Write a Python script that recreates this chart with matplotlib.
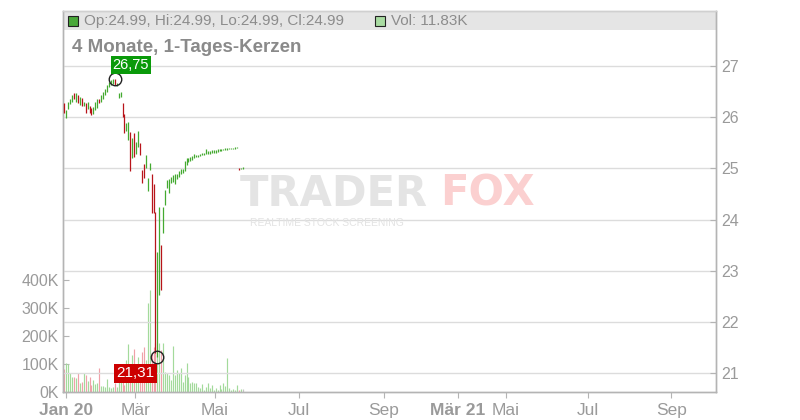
import matplotlib
matplotlib.use('Agg')
import matplotlib.pyplot as plt
from matplotlib.patches import Rectangle
import numpy as np

# ---------------- data ----------------
opens = [26.28, 25.99, 26.16, 26.25, 26.29, 26.48, 26.30, 26.43, 26.24, 26.37,
         26.21, 26.28, 26.16, 26.21, 26.17, 26.06, 26.14, 26.18, 26.36, 26.30,
         26.35, 26.43, 26.50, 26.58, 26.62, 26.65, 26.75, 26.61, 26.37, 26.39,
         26.28, 26.06, 25.74, 25.55, 25.72, 25.20, 25.69, 25.29, 25.41, 25.50,
         24.97, 25.08, 25.00, 24.55, 24.97, 24.90, 24.70, 24.15, 21.31, 22.53,
         23.50, 23.73, 24.29, 24.61, 24.52, 24.71, 24.74, 24.70, 24.79, 24.84,
         24.90, 24.91, 24.94, 25.07, 25.13, 25.15, 25.17, 25.20, 25.23, 25.23,
         25.24, 25.26, 25.26, 25.28, 25.28, 25.29, 25.30, 25.31, 25.31, 25.33,
         25.34, 25.34, 25.35, 25.36, 25.36, 25.37, 25.37, 25.37, 25.38, 25.39,
         25.01, 24.98, 24.99]
closes = [26.09, 26.15, 26.30, 26.36, 26.44, 26.35, 26.48, 26.27, 26.40, 26.21,
          26.30, 26.09, 26.29, 26.08, 26.04, 26.20, 26.30, 26.35, 26.28, 26.43,
          26.49, 26.56, 26.63, 26.69, 26.72, 26.74, 26.63, 26.66, 26.47, 26.50,
          26.00, 25.69, 25.88, 25.91, 24.94, 25.60, 25.23, 25.52, 25.74, 25.26,
          24.72, 24.81, 25.26, 24.81, 25.11, 24.13, 24.13, 21.40, 23.37, 24.25,
          22.62, 24.25, 24.58, 24.77, 24.79, 24.84, 24.87, 24.89, 24.90, 24.94,
          24.98, 24.98, 25.15, 25.20, 25.20, 25.22, 25.24, 25.29, 25.27, 25.27,
          25.28, 25.31, 25.30, 25.37, 25.34, 25.34, 25.35, 25.35, 25.36, 25.37,
          25.37, 25.38, 25.38, 25.39, 25.39, 25.39, 25.40, 25.40, 25.40, 25.42,
          24.97, 24.99, 24.99]
volumes_k = [81, 102, 100, 67, 55, 55, 49, 67, 33, 37,
             69, 61, 40, 55, 25, 43, 27, 31, 85, 21,
             21, 19, 46, 19, 13, 19, 31, 19, 37, 49,
             37, 25, 114, 171, 43, 132, 154, 67, 126, 37,
             144, 162, 114, 319, 364, 138, 162, 174, 140, 175,
             150, 174, 73, 67, 61, 43, 165, 61, 79, 67,
             85, 37, 61, 102, 55, 31, 37, 31, 33, 19,
             13, 28, 7, 17, 31, 13, 25, 7, 13, 7,
             25, 9, 31, 20, 121, 15, 8, 10, 8, 25,
             8, 10, 11.83]

price_ticks = [21, 22, 23, 24, 25, 26, 27]
volume_ticks_k = [0, 100, 200, 300, 400]
month_labels = ['Jan 20', 'Mär', 'Mai', 'Jul', 'Sep', 'Mär 21', 'Mai', 'Jul', 'Sep']
month_positions = [0.9, 36.5, 77.7, 121.0, 164.8, 202.9, 227.7, 270.0, 312.8]
bold_months = ['Jan 20', 'Mär 21']
title_text = '4 Monate, 1-Tages-Kerzen'

# ---------------- style ----------------
W, H = 800, 420
L, R, T, B = 63, 716, 11, 392
GREEN = '#44aa30'
RED = '#b8141a'
VGREEN = '#a3da9b'
VRED = '#f0a0a8'
VGRAY = '#c4c4c4'
GRID = '#dcdcdc'
AXC = '#b4b4b4'
TXT = '#9a9a9a'

plt.rcParams['font.family'] = ['Liberation Sans', 'DejaVu Sans']

fig = plt.figure(figsize=(W / 100, H / 100), dpi=100)
ax_v = fig.add_axes([L / W, 1 - B / H, (R - L) / W, (B - T) / H])
ax_p = ax_v.twinx()

o = np.array(opens)
c = np.array(closes)
v = np.array(volumes_k)
n = len(o)
x = np.arange(n)
up = c >= o

# limits
ax_v.set_xlim(-0.67, 335.9)
ax_p.set_ylim(20.633, 28.074)
ax_v.set_ylim(0, 1361)

# header band (under grid)
ax_v.add_patch(Rectangle((0, (B - 30) / (B - T)), 1, 1 - (B - 30) / (B - T),
                         transform=ax_v.transAxes, facecolor='#e5e5e5',
                         edgecolor='none', zorder=0.5))

# volume bars
vcols = [VGREEN if cc > oo else (VRED if cc < oo else VGRAY) for oo, cc in zip(o, c)]
ax_v.vlines(x, 0, v, colors=vcols, linewidth=0.85, zorder=2)

# candles (bodies)
body = np.maximum(np.abs(c - o), 0.03)
bottom = np.minimum(o, c)
ccols = [GREEN if u else RED for u in up]
ax_p.vlines(x, bottom, bottom + body, colors=ccols, linewidth=0.9, zorder=3)

# grid
ax_p.set_yticks(price_ticks)
ax_p.set_yticklabels([str(t) for t in price_ticks])
ax_v.set_xticks(month_positions)
ax_v.set_xticklabels(month_labels)
ax_p.grid(True, axis='both', color=GRID, linewidth=1, zorder=1)
ax_p.set_axisbelow(True)

# volume ticks
ax_v.set_yticks(volume_ticks_k)
ax_v.set_yticklabels([f'{t}K' for t in volume_ticks_k])

# styles of ticks
ax_p.tick_params(axis='y', direction='in', length=4, color=AXC, labelcolor=TXT,
                 labelsize=11.5, pad=4)
ax_p.tick_params(axis='x', bottom=False, labelbottom=False)
ax_v.tick_params(axis='y', direction='in', length=4, color=AXC, labelcolor=TXT,
                 labelsize=11.5, pad=3)
ax_v.tick_params(axis='x', direction='out', length=4, color=AXC, labelcolor=TXT,
                 labelsize=12.5, pad=4)
for lab in ax_v.get_xticklabels():
    lab.set_family(['Liberation Sans Narrow', 'Liberation Sans', 'DejaVu Sans'])
    if lab.get_text() in bold_months:
        lab.set_fontweight('bold')

for a in (ax_v, ax_p):
    for s in a.spines.values():
        s.set_color(AXC)
        s.set_linewidth(1)
ax_v.spines['top'].set_color('#d0d0d0')
ax_p.spines['top'].set_color('#d0d0d0')

# high / low markers
i_hi = int(np.argmax(np.maximum(o, c)))
i_lo = int(np.argmin(np.minimum(o, c)))
hi = float(np.maximum(o, c)[i_hi])
lo = float(np.minimum(o, c)[i_lo])
ax_p.plot([i_hi], [hi], 'o', ms=9, mfc='none', mec='#222222', mew=1, zorder=6)
ax_p.plot([i_lo], [lo], 'o', ms=9, mfc='none', mec='#222222', mew=1, zorder=6)
ax_p.annotate(f'{hi:.2f}'.replace('.', ','), xy=(i_hi, hi), xytext=(-2, 7),
              textcoords='offset pixels', ha='left', va='bottom', color='white',
              fontsize=10.5, zorder=7,
              bbox=dict(boxstyle='square,pad=0.15', fc='#0a9a0a', ec='none'))
ax_p.annotate(f'{lo:.2f}'.replace('.', ','), xy=(i_lo, lo), xytext=(-3, -9),
              textcoords='offset pixels', ha='right', va='top', color='white',
              fontsize=11, zorder=7,
              bbox=dict(boxstyle='square,pad=0.15', fc='#cc0000', ec='none'))

# header legend
fig.add_artist(Rectangle((68 / W, 1 - 26 / H), 10 / W, 10 / H, transform=fig.transFigure,
                         facecolor='#4aa83a', edgecolor='#222222', linewidth=0.8))
fig.text(84 / W, 1 - 21 / H,
         f'Op:{o[-1]:.2f}, Hi:{max(o[-1], c[-1]):.2f}, Lo:{min(o[-1], c[-1]):.2f}, Cl:{c[-1]:.2f}',
         fontsize=11, color='#8c8c8c', va='center', ha='left')
fig.add_artist(Rectangle((375 / W, 1 - 26 / H), 10 / W, 10 / H, transform=fig.transFigure,
                         facecolor='#a9dca2', edgecolor='#222222', linewidth=0.8))
fig.text(391 / W, 1 - 21 / H, f'Vol: {v[-1]:.2f}K', fontsize=11, color='#8c8c8c',
         va='center', ha='left')

# title
fig.text(72 / W, 1 - 47 / H, title_text, fontsize=13.5, fontweight='bold',
         color='#8a8a8a', va='center', ha='left')

# watermark
fig.text(240 / W, 1 - 206 / H, 'TRADER', fontsize=30, fontweight='bold',
         family='DejaVu Sans', color='#e4e4e4', va='baseline', ha='left', zorder=0)
fig.text(440 / W, 1 - 206 / H, 'FOX', fontsize=30, fontweight='bold',
         family='DejaVu Sans', color='#fbd0d0', va='baseline', ha='left', zorder=0)
fig.text(250 / W, 1 - 226 / H, 'REALTIME STOCK SCREENING', fontsize=7.5,
         color='#e3e3e3', va='baseline', ha='left', zorder=0)

fig.savefig('out.png', dpi=100)
